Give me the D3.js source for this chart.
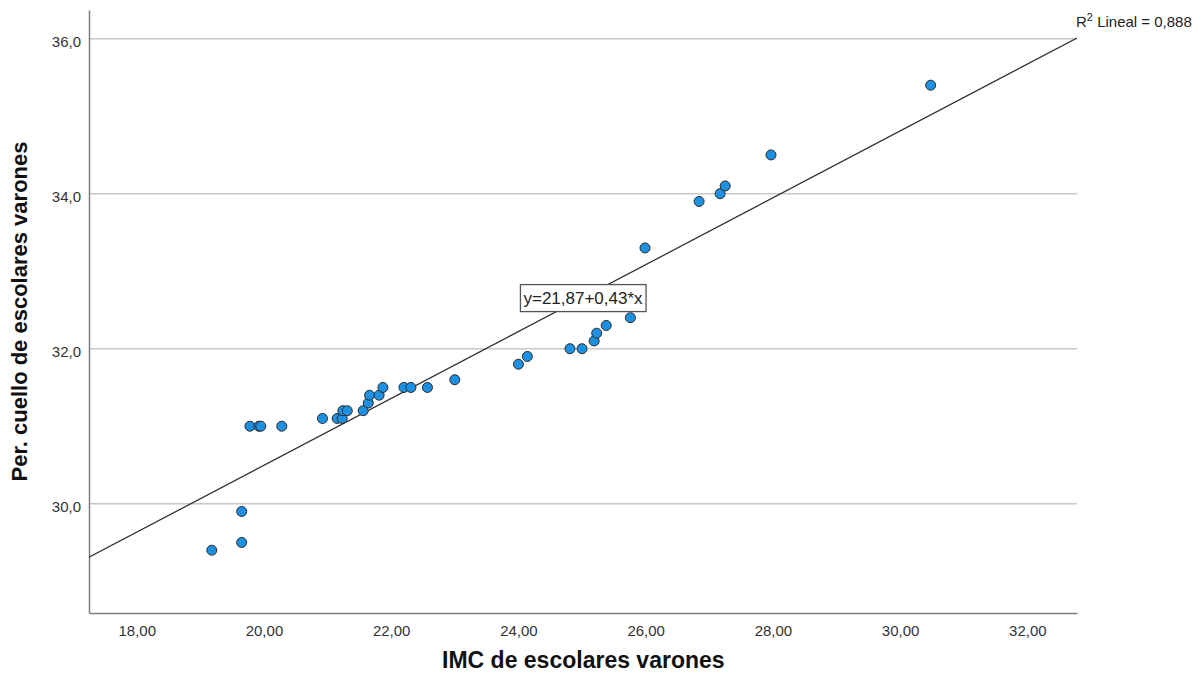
<!DOCTYPE html>
<html>
<head>
<meta charset="utf-8">
<script src="https://cdn.jsdelivr.net/npm/d3@7"></script>
<style>
  body { margin: 0; background: #fff; }
  svg text { font-family: "Liberation Sans", Arial, sans-serif; }
</style>
</head>
<body>
<svg id="chart" width="1204" height="683"></svg>
<script>
// IMC (x) and neck perimeter (y) for each student
const imc = [
  19.18, 19.65, 19.65, 19.78, 19.92, 19.95, 20.28, 20.92, 21.15, 21.23,
  21.24, 21.31, 21.56, 21.64, 21.66, 21.81, 21.87, 22.20, 22.31, 22.57,
  23.00, 24.00, 24.14, 24.81, 25.00, 25.19, 25.23, 25.38, 25.76, 25.99,
  26.84, 27.17, 27.25, 27.97, 30.48,
];
const cuello = [
  29.4, 29.5, 29.9, 31.0, 31.0, 31.0, 31.0, 31.1, 31.1, 31.1,
  31.2, 31.2, 31.2, 31.3, 31.4, 31.4, 31.5, 31.5, 31.5, 31.5,
  31.6, 31.8, 31.9, 32.0, 32.0, 32.1, 32.2, 32.3, 32.4, 33.3,
  33.9, 34.0, 34.1, 34.5, 35.4,
];
const xTicks = [18, 20, 22, 24, 26, 28, 30, 32];
const yTicks = [30, 32, 34, 36];
const fitIntercept = 21.87;
const fitSlope = 0.4313; // shown rounded as 0,43
const rSquared = "0,888";

const margin = { top: 10, right: 127, bottom: 70, left: 89 };
const width = 1204;
const height = 683;
const plotW = width - margin.left - margin.right;
const plotH = height - margin.top - margin.bottom;

const svg = d3.select("#chart");
const g = svg.append("g")
  .attr("transform", "translate(" + margin.left + "," + margin.top + ")");

const x = d3.scaleLinear().domain([17.25, 32.78]).range([0, plotW]);
const y = d3.scaleLinear().domain([28.59, 36.37]).range([plotH, 0]);

const comma = (d, n) => d.toFixed(n).replace(".", ",");

// horizontal grid lines
g.selectAll(".grid")
  .data(yTicks)
  .join("line")
  .attr("class", "grid")
  .attr("x1", 0)
  .attr("x2", plotW)
  .attr("y1", (d) => y(d))
  .attr("y2", (d) => y(d))
  .style("stroke", "#c8c8c8")
  .style("stroke-width", "1.5px");

// axes
const yAxis = g.append("g")
  .call(d3.axisLeft(y).tickValues(yTicks).tickSize(0).tickPadding(8).tickFormat((d) => comma(d, 1)));
const xAxis = g.append("g")
  .attr("transform", "translate(0," + plotH + ")")
  .call(d3.axisBottom(x).tickValues(xTicks).tickSize(0).tickPadding(12).tickFormat((d) => comma(d, 2)));

[yAxis, xAxis].forEach((a) => {
  a.select(".domain").style("stroke", "#7f7f7f").style("stroke-width", "1.5px");
  a.selectAll("text").style("font-size", "15px").style("fill", "#333");
});
yAxis.selectAll("text").attr("dy", "0.55em");

// fit line, clipped to the plot
svg.append("clipPath").attr("id", "plotclip")
  .append("rect").attr("width", plotW).attr("height", plotH);

const line = d3.line().x((d) => x(d)).y((d) => y(fitIntercept + fitSlope * d));
g.append("path")
  .attr("clip-path", "url(#plotclip)")
  .attr("d", line(x.domain()))
  .style("fill", "none")
  .style("stroke", "#333")
  .style("stroke-width", "1.3px");

// points
g.selectAll(".dot")
  .data(imc.map((v, i) => [v, cuello[i]]))
  .join("circle")
  .attr("class", "dot")
  .attr("cx", (d) => x(d[0]))
  .attr("cy", (d) => y(d[1]))
  .attr("r", 5)
  .style("fill", "#1e90e2")
  .style("stroke", "#2a2a2a")
  .style("stroke-width", "1px");

// equation label on the fit line, at the middle of the x range
const midX = (x.domain()[0] + x.domain()[1]) / 2;
const eqText = "y=" + comma(fitIntercept, 2) + "+" + comma(fitSlope, 2) + "*x";
const eq = g.append("g")
  .attr("transform", "translate(" + x(midX) + "," + y(fitIntercept + fitSlope * midX) + ")");
const eqLabel = eq.append("text")
  .attr("text-anchor", "middle")
  .attr("dy", "0.35em")
  .style("font-size", "17px")
  .style("fill", "#222")
  .text(eqText);
const bb = eqLabel.node().getBBox();
eq.insert("rect", "text")
  .attr("x", bb.x - 3)
  .attr("y", bb.y - 4)
  .attr("width", bb.width + 6)
  .attr("height", bb.height + 8)
  .style("fill", "#fff")
  .style("stroke", "#555")
  .style("stroke-width", "1.3px");

// R squared label
const r2 = svg.append("text")
  .attr("x", 1076)
  .attr("y", 27)
  .style("font-size", "15px")
  .style("fill", "#222");
r2.append("tspan").text("R");
r2.append("tspan").attr("dy", -6).style("font-size", "11px").text("2");
r2.append("tspan").attr("dy", 6).text(" Lineal = " + rSquared);

// axis titles
svg.append("text")
  .attr("x", margin.left + x(25.02))
  .attr("y", 668)
  .attr("text-anchor", "middle")
  .style("font-size", "23px")
  .style("font-weight", "bold")
  .style("fill", "#111")
  .text("IMC de escolares varones");

svg.append("text")
  .attr("transform", "translate(27," + (margin.top + plotH / 2) + ") rotate(-90)")
  .attr("text-anchor", "middle")
  .style("font-size", "22px")
  .style("font-weight", "bold")
  .style("fill", "#111")
  .text("Per. cuello de escolares varones");
</script>
</body>
</html>
